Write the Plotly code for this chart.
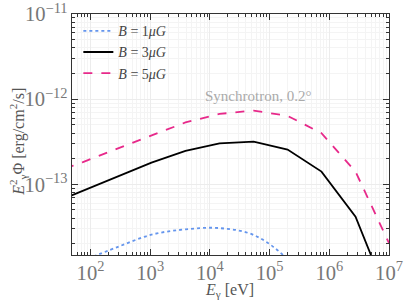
import plotly.graph_objects as go

# Node energies (eV)
energy = [19.5, 73, 275, 1050, 3900, 14500, 54000, 200000, 740000, 2750000, 1.0e7]

# E^2 Phi [erg/cm^2/s]
flux_b1 = [None, 1.26e-14, 1.82e-14, 2.56e-14, 2.96e-14, 3.06e-14, 2.54e-14, 1.32e-14, 4.0e-15, None, None]
flux_b3 = [5.7e-14, 8.4e-14, 1.24e-13, 1.80e-13, 2.47e-13, 3.03e-13, 3.17e-13, 2.56e-13, 1.41e-13, 4.16e-14, 4.4e-15]
flux_b5 = [1.30e-13, 1.81e-13, 2.61e-13, 3.71e-13, 5.33e-13, 6.71e-13, 7.35e-13, 6.37e-13, 3.98e-13, 1.41e-13, 2.04e-14]

labels = ["<i>B</i> = 1<i>μG</i>", "<i>B</i> = 3<i>μG</i>", "<i>B</i> = 5<i>μG</i>"]

def xy(vals):
    xs, ys = [], []
    for e, v in zip(energy, vals):
        if v is not None:
            xs.append(e)
            ys.append(v)
    return xs, ys

serif = "Liberation Serif, DejaVu Serif, serif"

fig = go.Figure()
x1, y1 = xy(flux_b1)
fig.add_trace(go.Scatter(x=x1, y=y1, mode="lines", name=labels[0],
                         line=dict(color="#6495ED", width=1.8, dash="dot", shape="spline")))
x3, y3 = xy(flux_b3)
fig.add_trace(go.Scatter(x=x3, y=y3, mode="lines", name=labels[1],
                         line=dict(color="black", width=1.8)))
x5, y5 = xy(flux_b5)
fig.add_trace(go.Scatter(x=x5, y=y5, mode="lines", name=labels[2],
                         line=dict(color="#E7298A", width=1.8, dash="dash")))

axis_common = dict(
    type="log", showline=True, linecolor="#333", linewidth=1.3, mirror="allticks",
    ticks="inside", ticklen=6, tickcolor="#333", tickwidth=1,
    showgrid=True, gridcolor="#ececec", gridwidth=0.6,
    exponentformat="power", dtick=1, automargin=False, ticklabeloverflow="allow",
    tickfont=dict(family=serif, size=16.5, color="#777"),
    minor=dict(ticks="inside", ticklen=3, tickcolor="#333", dtick="D1",
               showgrid=True, gridcolor="#f4f4f4", gridwidth=0.5),
    zeroline=False,
)

fig.update_xaxes(**axis_common, range=[1.69, 7])
fig.update_yaxes(**axis_common, range=[-13.83, -11])

title_font = dict(family=serif, size=16, color="#555")
fig.add_annotation(x=0.498, y=-0.148, xref="paper", yref="paper", showarrow=False,
                   xanchor="center", yanchor="middle",
                   text="<i>E</i><sub>γ</sub> [eV]", font=title_font)
fig.add_annotation(x=-0.170, y=0.47, xref="paper", yref="paper", showarrow=False, textangle=-90,
                   xanchor="center", yanchor="middle",
                   text="<i>E</i><sup>2</sup><sub>γ</sub>Φ [erg/cm<sup>2</sup>/s]", font=title_font)

fig.add_annotation(x=2.0 + (258 - 91) / 59.5, y=-12 - (96 - 99.3) / 85, xref="x", yref="y",
                   text="Synchrotron, 0.2°", showarrow=False,
                   font=dict(family=serif, size=15, color="#aaa"))

fig.update_layout(
    width=407, height=305,
    margin=dict(l=72, r=18, t=14, b=50),
    paper_bgcolor="white", plot_bgcolor="white",
    showlegend=True,
    legend=dict(x=0.02, y=0.995, xanchor="left", yanchor="top", bgcolor="rgba(0,0,0,0)",
                font=dict(family=serif, size=14, color="#444"), itemwidth=30,
                tracegroupgap=0),
)

fig.write_html("out.html", config={"displayModeBar": False},
               post_script="document.body.style.margin='0';")
